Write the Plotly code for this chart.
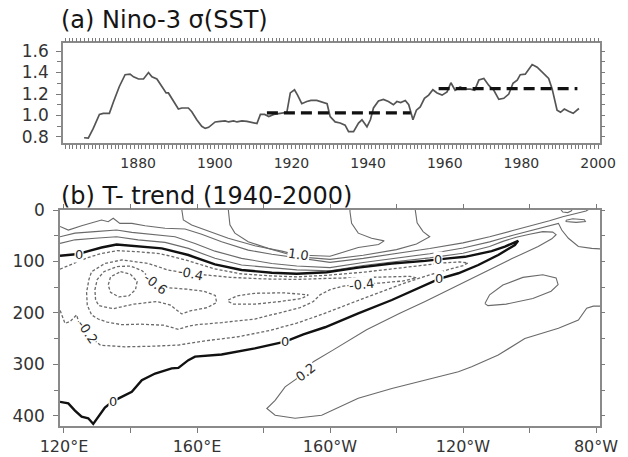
import plotly.graph_objects as go

# ---------------- (a) Nino-3 sigma(SST) ----------------
years = [1865.9, 1867.0, 1868.3, 1869.9, 1870.9, 1872.5, 1873.6, 1875.1, 1876.6, 1877.9,
         1878.8, 1880.1, 1881.4, 1882.7, 1883.6, 1884.9, 1886.2, 1887.3, 1887.9, 1889.2,
         1890.5, 1891.4, 1893.1, 1894.0, 1895.3, 1896.6, 1897.5, 1898.4, 1900.1, 1901.4,
         1902.7, 1903.6, 1904.9, 1905.8, 1907.1, 1908.4, 1910.1, 1911.0, 1911.9, 1913.0,
         1914.1, 1915.4, 1917.1, 1918.8, 1919.7, 1920.8, 1921.6, 1922.7, 1924.0, 1925.1,
         1926.6, 1928.4, 1929.3, 1930.1, 1931.4, 1932.7, 1934.0, 1934.9, 1936.2, 1937.5,
         1938.4, 1939.7, 1940.6, 1941.4, 1942.7, 1944.0, 1945.3, 1946.6, 1947.5, 1948.5,
         1949.7, 1950.6, 1951.7, 1952.6, 1953.6, 1954.7, 1955.8, 1956.9, 1958.0, 1959.3,
         1960.6, 1961.6, 1962.7, 1964.0, 1965.3, 1966.7, 1967.8, 1968.9, 1970.2, 1971.5,
         1972.8, 1974.1, 1975.4, 1976.7, 1977.8, 1978.9, 1979.7, 1981.0, 1982.8, 1984.1,
         1985.8, 1987.1, 1988.0, 1989.3, 1990.2, 1991.2, 1992.3, 1993.5, 1995.0]
sigma = [0.793, 0.79, 0.88, 1.01, 1.02, 1.02, 1.13, 1.27, 1.38, 1.385,
         1.36, 1.34, 1.34, 1.40, 1.36, 1.34, 1.27, 1.21, 1.21, 1.14,
         1.06, 1.07, 1.07, 1.035, 0.96, 0.90, 0.88, 0.89, 0.94, 0.945,
         0.95, 0.94, 0.95, 0.94, 0.95, 0.945, 0.93, 0.925, 1.01, 1.01,
         0.99, 1.01, 1.02, 1.03, 1.21, 1.24, 1.19, 1.11, 1.13, 1.14,
         1.14, 1.12, 1.11, 0.99, 0.94, 0.93, 0.91, 0.85, 0.85, 0.93,
         0.96, 0.895, 0.96, 1.07, 1.135, 1.15, 1.13, 1.10, 1.13, 1.12,
         1.14, 1.10, 0.96, 1.05, 1.08, 1.16, 1.19, 1.24, 1.21, 1.19,
         1.22, 1.305, 1.235, 1.265, 1.245, 1.245, 1.235, 1.33, 1.345, 1.28,
         1.235, 1.15, 1.16, 1.20, 1.30, 1.33, 1.38, 1.385, 1.475, 1.45,
         1.39, 1.345, 1.25, 1.05, 1.03, 1.06, 1.04, 1.02, 1.065]

# period means
early_years = [1913.6, 1951.1]
early_mean = 1.025
late_years = [1958.4, 1994.6]
late_mean = 1.25

# ---------------- (b) T trend section (lon, depth) ----------------
lon_tickvals = [120, 140, 160, 180, 200, 220, 240, 260, 280]
lon_ticktext = ["120°E", "", "160°E", "", "160°W", "", "120°W", "", "80°W"]
depth_tickvals = [0, 100, 200, 300, 400]

# zero contour (thermocline tongue)
zero_lon = [118.8, 124.3, 127.3, 131.3, 135.8, 142.3, 149.4, 157.4, 165.4, 173.4,
            182.5, 190.0, 199.0, 208.5, 218.6, 228.6, 232.4, 235.6, 240.6, 244.6,
            248.6, 252.6, 256.6, 255.6, 250.6, 244.6, 238.6, 232.8, 228.6, 218.6,
            208.5, 198.5, 192.0, 186.5, 177.4, 167.4, 159.4, 157.4, 154.4, 152.4,
            147.4, 143.4, 140.4, 137.4, 134.8, 132.3, 128.8, 127.3, 125.3, 123.3,
            121.3, 118.8]
zero_dep = [89, 85.6, 80, 73, 67, 71, 74.6, 87.5, 105.7, 116.7,
            122, 124, 121, 112, 104, 99, 97, 94, 91, 86,
            80, 71, 60, 68, 87.5, 107, 123, 134, 146, 175,
            201, 228, 242, 256, 269, 281, 285, 292, 307, 308,
            318, 331, 353.5, 364, 371.6, 384, 416, 405, 402, 390,
            376, 373]

# positive contours
p02_lon = [118.8, 123.3, 129.3, 135.8, 142.3, 150.4, 157.4, 165.4, 173.4, 182.5,
           190.0, 200.0, 210.0, 220.0, 230.0, 240.0, 248.0, 252.0, 256.0, 260.0,
           264.0, 267.0, 268.0, 266.7, 262.6, 254.6, 243.6, 236.0, 228.6, 221.0,
           211.0, 201.0, 195.0, 190.0, 186.5, 183.5, 181.0, 183.5, 189.5, 197.5,
           208.5, 218.6, 228.6, 238.6, 242.6, 250.6, 258.6, 264.7, 268.7, 274.7,
           277.2, 279.2, 282.0]
p02_dep = [65, 58, 55, 52, 58, 63, 74.6, 94, 107, 113,
           116.5, 118, 108, 100, 93, 84, 71, 61, 53, 47,
           42, 43, 48, 56, 71, 95, 130, 155, 178, 201,
           233, 272, 295, 328, 344, 370, 386, 399, 405, 399,
           366, 347, 331, 314.5, 305, 282, 250, 237, 230, 214,
           191, 187, 187]
p04_lon = [118.8, 123.3, 129.3, 135.8, 140.4, 147.4, 153.4, 159.4, 165.4, 173.4,
           182.5, 190.0, 200.0, 210.0, 220.0, 230.0, 240.0, 248.0, 255.0, 261.0,
           266.0, 268.7, 269.7, 271.7, 274.7, 278.7, 282.0]
p04_dep = [52, 45, 42, 39, 43.5, 48.6, 52, 65, 80, 94,
           104, 109, 112, 102, 94, 85, 74, 62, 49, 39,
           31, 26, 39, 55, 71, 74.6, 76]
p06_lon = [118.8, 121.3, 125.3, 129.3, 131.3, 133.3, 134.8, 136.8, 140.4, 144.4,
           150.4, 156.4, 161.4, 167.4, 175.4, 182.5, 189.5, 200.0, 210.0, 220.0,
           230.0, 240.0, 248.0, 255.0, 261.0, 266.0, 270.0, 274.0, 277.0, 278.0]
p06_dep = [32, 39, 30.5, 22.7, 19.5, 22.7, 16, 26, 26, 30.5,
           35.6, 37, 47, 61.6, 78, 86, 92.7, 101.8, 94, 85,
           75, 64, 52, 40, 30, 21, 13, 7, 2, -2]
p08_lon = [155.4, 155.9, 158.4, 163.4, 169.4, 177.4, 185.5, 193.5, 200.0, 210.0,
           220.0, 226.0, 230.0, 228.0, 226.2, 225.6]
p08_dep = [-2, 19.5, 29, 41, 55, 69.5, 80, 92.7, 96, 88,
           77, 66, 52, 42, 25, -2]
p10_lon = [169.4, 169.9, 171.4, 175.4, 181.4, 187.5, 190.5, 195.0, 200.0, 208.5,
           214.6, 216.3, 212.5, 208.5, 206.5, 206.0, 206.0]
p10_dep = [-2, 29, 45, 61.6, 74.6, 86, 87.5, 89, 90, 73,
           67, 60, 55, 45, 26, 3, -2]
p04_oval_lon = [246.6, 248.0, 252.0, 258.0, 264.0, 268.0, 268.6, 266.5, 261.0, 253.0, 247.5, 246.6]
p04_oval_dep = [182, 165, 146, 131, 126, 132, 145, 158, 172, 183, 186, 182]
small_loop_lon = [271.0, 273.0, 276.5, 276.8, 274.0, 271.0, 271.0]
small_loop_dep = [20, 17, 19, 22.5, 24, 22.5, 20]
top_arc_lon = [269.3, 270.0, 271.5, 272.5, 273.0]
top_arc_dep = [-2, 4, 5, 2, -2]

# negative contours
n02_lon = [118.8, 122.0, 127.0, 131.0, 136.0, 142.0, 149.0, 157.0, 165.0, 173.0,
           182.0, 190.0, 199.0, 210.0, 220.0, 228.0, 234.0, 239.0, 241.5, 240.0,
           236.0, 230.0, 222.0, 214.0, 206.0, 198.0, 190.0, 182.0, 172.4, 163.0,
           154.4, 146.0, 138.3, 131.0, 128.5, 126.5, 124.5, 123.8, 121.8, 120.3,
           118.8]
n02_dep = [115, 106, 93, 85, 79, 81, 85, 98, 114, 124,
           128, 130, 127, 121, 113, 107, 103, 101, 103, 108,
           115, 126, 143, 162, 182, 202, 220, 234, 246.5, 254,
           262.6, 265, 266, 263, 250, 236, 220, 204, 217, 220.5,
           194.5]
n04_lon = [157.5, 163.0, 170.0, 180.0, 190.0, 199.0, 210.0, 218.0, 224.0, 226.0,
           222.0, 215.0, 209.5, 204.0, 200.0, 197.0, 195.0, 191.0, 185.0, 177.4,
           167.4, 160.0, 157.4, 154.4, 150.0, 143.0, 137.3, 133.0, 130.3, 128.3,
           127.0, 126.8, 127.5, 128.3, 132.3, 137.4, 145.4, 151.4, 157.5]
n04_dep = [123, 127, 131, 134, 135, 133, 131, 129, 129, 132,
           138, 142, 144, 148, 155, 165, 178, 190, 200, 212,
           219, 223, 226, 232, 224, 222, 223, 218, 212, 204,
           185, 160, 135, 120, 104, 97, 104, 117, 123]
n06w_lon = [147.4, 151.0, 157.0, 162.0, 165.5, 165.9, 163.0, 158.0, 155.4, 152.0,
            148.0, 141.0, 134.8, 130.5, 129.5, 129.3, 130.0, 132.0, 136.0, 140.0,
            143.5, 145.5, 147.4]
n06w_dep = [143, 151, 154, 158, 166, 180, 190, 196, 202, 185,
            178, 183, 192, 186, 175, 155, 135, 120, 110, 109,
            118, 130, 143]
n06e_lon = [169.4, 172.0, 177.4, 186.0, 193.5, 191.5, 185.0, 177.4, 171.0, 169.4, 169.4]
n06e_dep = [175, 167, 162, 161, 165, 172, 178, 183, 183, 178, 175]
n08_lon = [137.0, 140.0, 142.0, 141.5, 139.5, 136.5, 134.0, 133.3, 134.0, 137.0]
n08_dep = [120, 125, 139, 155, 167, 169, 160, 146, 130, 120]

# contour labels: text, lon, depth, angle
label_text = ["0", "0", "0", "0", "0", "1.0", "-0.4", "-0.4", "-0.6", "-0.2", "0.2"]
label_lon = [124.5, 232.4, 232.8, 186.5, 134.8, 190.5, 158.0, 209.5, 147.4, 127.0, 192.5]
label_dep = [86, 97, 134, 256, 371.6, 87.5, 123, 144, 143, 236, 315]
label_ang = [0, 0, 0, 0, 0, 8, 12, -6, 38, 55, -38]

# ---------------- figure ----------------
W, H = 628, 457
FONT = "DejaVu Sans"
FRAME = "#8a8a8a"
TICK = "#7a7a7a"

def px_x(a, b):
    return [a / W, b / W]

def px_y(top, bottom):
    return [1 - bottom / H, 1 - top / H]

fig = go.Figure()

# panel (a)
fig.add_trace(go.Scatter(x=years, y=sigma, mode="lines",
                         line=dict(color="#555555", width=1.7),
                         xaxis="x", yaxis="y", showlegend=False, hoverinfo="skip"))
fig.add_trace(go.Scatter(x=early_years, y=[early_mean, early_mean], mode="lines",
                         line=dict(color="#111111", width=3.2, dash="11px,6px"),
                         xaxis="x", yaxis="y", showlegend=False, hoverinfo="skip"))
fig.add_trace(go.Scatter(x=late_years, y=[late_mean, late_mean], mode="lines",
                         line=dict(color="#111111", width=3.2, dash="11px,6px"),
                         xaxis="x", yaxis="y", showlegend=False, hoverinfo="skip"))
fig.add_trace(go.Scatter(x=[None], y=[None], xaxis="x3", yaxis="y3",
                         showlegend=False, hoverinfo="skip"))

# panel (b)
pos_style = dict(color="#6a6a6a", width=1.1)
neg_style = dict(color="#6a6a6a", width=1.3, dash="3px,2px")
zero_style = dict(color="#111111", width=2.4)

lines_b = [
    (p02_lon, p02_dep, pos_style), (p04_lon, p04_dep, pos_style),
    (p06_lon, p06_dep, pos_style), (p08_lon, p08_dep, pos_style),
    (p10_lon, p10_dep, pos_style), (p04_oval_lon, p04_oval_dep, pos_style),
    (small_loop_lon, small_loop_dep, pos_style), (top_arc_lon, top_arc_dep, pos_style),
    (n02_lon, n02_dep, neg_style), (n04_lon, n04_dep, neg_style),
    (n06w_lon, n06w_dep, neg_style), (n06e_lon, n06e_dep, neg_style),
    (n08_lon, n08_dep, neg_style),
    (zero_lon, zero_dep, zero_style),
]
for lx, ly, st in lines_b:
    fig.add_trace(go.Scatter(x=lx, y=ly, mode="lines", line=st,
                             xaxis="x2", yaxis="y2", showlegend=False, hoverinfo="skip"))
fig.add_trace(go.Scatter(x=[None], y=[None], xaxis="x4", yaxis="y4",
                         showlegend=False, hoverinfo="skip"))

annotations = []
for t, lx, ly, ang in zip(label_text, label_lon, label_dep, label_ang):
    annotations.append(dict(x=lx, y=ly, xref="x2", yref="y2", text=t, showarrow=False,
                            textangle=ang, bgcolor="white", borderpad=0,
                            font=dict(family=FONT, size=13, color="#2a2a2a")))

annotations.append(dict(x=59 / W, y=1 - 20 / H, xref="paper", yref="paper",
                        xanchor="left", yanchor="middle", showarrow=False,
                        text="(a) Nino-3 σ(SST)",
                        font=dict(family=FONT, size=24, color="#151515")))
annotations.append(dict(x=59 / W, y=1 - 196 / H, xref="paper", yref="paper",
                        xanchor="left", yanchor="middle", showarrow=False,
                        text="(b) T- trend (1940-2000)",
                        font=dict(family=FONT, size=24, color="#151515")))

top_xr = [1860.4, 2000.5]
top_yr = [0.744, 1.675]
bot_xr = [118.8, 281.2]
bot_yr = [420, 0]

common = dict(showgrid=False, zeroline=False, automargin=False)

fig.update_layout(
    width=W, height=H, autosize=False,
    margin=dict(l=0, r=0, t=0, b=0, pad=0, autoexpand=False),
    paper_bgcolor="white", plot_bgcolor="white",
    showlegend=False,
    annotations=annotations,
    xaxis=dict(domain=px_x(63, 600), anchor="y", range=top_xr, tickmode="linear",
               tick0=1860, dtick=20, ticks="outside", ticklen=4, tickcolor=TICK,
               minor=dict(ticks="outside", dtick=1, tick0=1860, ticklen=4, tickcolor=TICK),
               showline=True, mirror=True, linecolor=FRAME, linewidth=1.5,
               tickfont=dict(family=FONT, size=14, color="#333333"),
               ticklabelstandoff=2, **common),
    yaxis=dict(domain=px_y(43, 143), anchor="x", range=top_yr, tickmode="linear",
               tick0=0.8, dtick=0.2, tickformat=".1f", ticks="outside", ticklen=5,
               tickcolor=TICK,
               minor=dict(ticks="outside", dtick=0.1, tick0=0.8, ticklen=4, tickcolor=TICK),
               showline=True, mirror=True, linecolor=FRAME, linewidth=1.5,
               tickfont=dict(family=FONT, size=17, color="#333333"),
               ticklabelstandoff=4, **common),
    xaxis3=dict(overlaying="x", side="top", anchor="y", range=top_xr, tickmode="linear",
                tick0=1860, dtick=1, ticks="outside", ticklen=4, tickcolor=TICK,
                showticklabels=False, showline=False, **common),
    yaxis3=dict(overlaying="y", side="right", anchor="x", range=top_yr, tickmode="linear",
                tick0=0.8, dtick=0.1, ticks="outside", ticklen=4, tickcolor=TICK,
                showticklabels=False, showline=False, **common),
    xaxis2=dict(domain=px_x(60, 600), anchor="y2", range=bot_xr, tickmode="array",
                tickvals=lon_tickvals, ticktext=lon_ticktext, ticks="outside", ticklen=5,
                tickcolor=TICK, showline=True, mirror=True, linecolor=FRAME, linewidth=1.5,
                tickfont=dict(family=FONT, size=16, color="#333333"),
                ticklabelstandoff=0, **common),
    yaxis2=dict(domain=px_y(210, 426), anchor="x2", range=bot_yr, tickmode="array",
                tickvals=depth_tickvals, ticks="outside", ticklen=5, tickcolor=TICK,
                minor=dict(ticks="outside", tickmode="array",
                           tickvals=[50, 150, 250, 350], ticklen=4, tickcolor=TICK),
                showline=True, mirror=True, linecolor=FRAME, linewidth=1.5,
                tickfont=dict(family=FONT, size=17, color="#333333"),
                ticklabelstandoff=5, **common),
    xaxis4=dict(overlaying="x2", side="top", anchor="y2", range=bot_xr, tickmode="array",
                tickvals=lon_tickvals, ticks="outside", ticklen=5, tickcolor=TICK,
                showticklabels=False, showline=False, **common),
    yaxis4=dict(overlaying="y2", side="right", anchor="x2", range=bot_yr, tickmode="linear",
                tick0=0, dtick=50, ticks="outside", ticklen=4, tickcolor=TICK,
                showticklabels=False, showline=False, **common),
)

fig.write_html("out.html")
